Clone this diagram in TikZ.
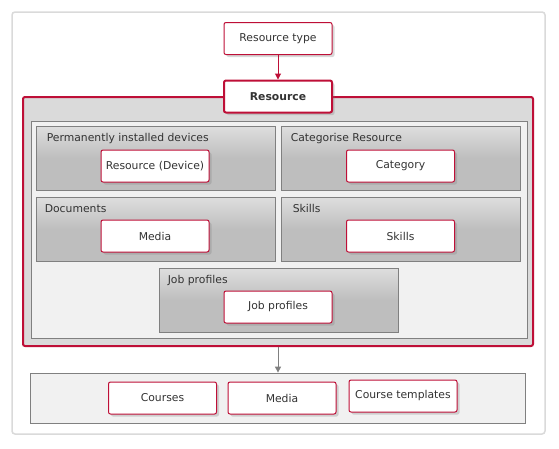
\documentclass[tikz,border=0pt]{standalone}
\usepackage{fontspec}
\setmainfont{DejaVu Sans}
\usetikzlibrary{shadows,arrows.meta}
\definecolor{crim}{RGB}{190,15,55}
\definecolor{txt}{RGB}{51,51,51}
\definecolor{frameg}{RGB}{218,218,218}
\definecolor{contfill}{RGB}{218,218,218}
\definecolor{panelfill}{RGB}{241,241,241}
\definecolor{panelline}{RGB}{128,128,128}
\definecolor{gtop}{RGB}{222,222,222}
\definecolor{gbot}{RGB}{190,190,190}
\tikzset{
  every node/.style={text=txt, font=\fontsize{10.8}{12}\selectfont},
  wbox/.style={draw=crim, line width=1pt, fill=white, rounded corners=2pt,
    minimum width=108pt, minimum height=32pt, inner sep=0pt,
    drop shadow={opacity=0.3, shadow xshift=2.5pt, shadow yshift=-2.5pt}},
  group/.style={draw=panelline, line width=0.8pt, top color=gtop, bottom color=gbot, middle color=gbot,
    minimum width=239pt, minimum height=64pt, inner sep=0pt},
  glabel/.style={anchor=west, inner sep=0pt},
  panel/.style={draw=panelline, line width=0.8pt, fill=panelfill, inner sep=0pt},
  redarrow/.style={draw=crim, line width=1pt, -{Triangle[length=6pt,width=6pt]}},
  grayarrow/.style={draw=panelline, line width=1pt, -{Triangle[length=6pt,width=6pt]}}
}
\begin{document}
\begin{tikzpicture}[x=1pt,y=-1pt]
\useasboundingbox (0,0) rectangle (559,448);
% outer frame
\node[draw=frameg, line width=1.5pt, fill=white, rounded corners=3pt, minimum width=533pt, minimum height=422pt, inner sep=0pt] (frame) at (278.5,223) {};
% container
\node[draw=crim, line width=2pt, fill=contfill, rounded corners=2pt, minimum width=510pt, minimum height=249pt, inner sep=0pt] (cont) at (278,221.5) {};
\node[panel, minimum width=496pt, minimum height=217pt] (inner) at (279,229.5) {};
% groups
\node[group] (g1) at (155.5,158) {};
\node[group] (g2) at (400.5,158) {};
\node[group] (g3) at (155.5,229) {};
\node[group] (g4) at (400.5,229) {};
\node[group] (g5) at (278.5,300) {};
\node[glabel] (l1) at ([xshift=11pt,yshift=-13pt]g1.north west) {Permanently installed devices};
\node[glabel] (l2) at ([xshift=10pt,yshift=-13pt]g2.north west) {Categorise Resource};
\node[glabel] (l3) at ([xshift=9pt,yshift=-12pt]g3.north west) {Documents};
\node[glabel] (l4) at ([xshift=12pt,yshift=-12pt]g4.north west) {Skills};
\node[glabel] (l5) at ([xshift=9pt,yshift=-13pt]g5.north west) {Job profiles};
% white boxes
\node[wbox] (b1) at (155,166) {Resource (Device)};
\node[wbox] (b2) at (400.5,166) {Category};
\node[wbox] (b3) at (155,236) {Media};
\node[wbox] (b4) at (400.5,236) {Skills};
\node[wbox] (b5) at (278,307) {Job profiles};
% top boxes
\node[wbox] (rt) at (278,38.5) {Resource type};
\node[wbox, line width=2pt, minimum width=108pt, minimum height=32pt, font=\bfseries\fontsize{10.8}{12}\selectfont] (res) at (278,96.5) {Resource};
\draw[redarrow] (rt.south) -- (res.north);
% bottom panel
\node[panel, minimum width=495pt, minimum height=50pt] (bp) at (278,398) {};
\draw[grayarrow] (cont.south) -- (bp.north);
\node[wbox] (c1) at (162.5,398) {Courses};
\node[wbox] (c2) at (282,398) {Media};
\node[wbox] (c3) at (403,396) {Course templates};
\end{tikzpicture}
\end{document}
